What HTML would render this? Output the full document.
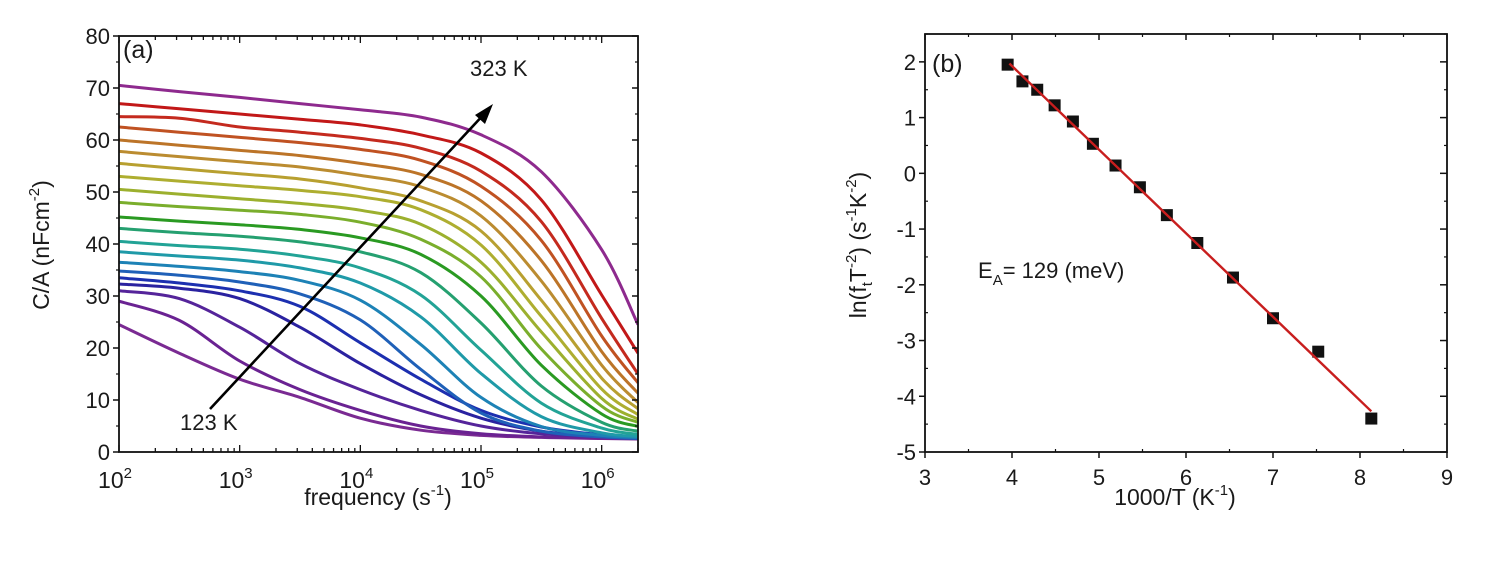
<!DOCTYPE html>
<html><head><meta charset="utf-8"><style>
html,body{margin:0;padding:0;background:#fff}
svg text{font-family:"Liberation Sans",Arial,sans-serif;fill:#1a1a1a}
</style></head><body>
<svg id="fig" width="1500" height="556" viewBox="0 0 1500 556" xmlns="http://www.w3.org/2000/svg">
<g id="pa"></g>
<g id="pb"></g>
</svg>
<script>
// ---------- Panel (a) data ----------
const logFreqSamples = [2, 2.5, 3, 3.5, 4, 4.5, 5, 5.5, 6, 6.301];
const curve123K = [24.5,19,14,10.5,6.5,4.2,3.2,2.8,2.6,2.5];
const curve133K = [29,25.3,17.5,12,8,5,3.5,2.9,2.7,2.6];
const curve143K = [31,29.5,24,17,12,8,5,3.5,2.9,2.7];
const curve153K = [32.3,31.5,29.5,24,17,11,6.5,4,3,2.8];
const curve163K = [33.5,32.5,31,28,21,14,8,4.8,3.3,2.9];
const curve173K = [34.8,34,32.7,30.4,25.4,15.9,7.5,4,2.9,2.6];
const curve183K = [36.5,35.7,34.7,33,29.2,20.7,10.5,4.9,3.2,2.8];
const curve193K = [38.5,37.7,36.9,35.4,32.5,26,15.1,6.8,3.7,3.0];
const curve203K = [40.5,39.7,39,37.7,35.4,30.2,19.6,9.4,4.6,3.4];
const curve213K = [43,42.2,41.5,40.4,38.5,34.5,24.8,12.7,5.7,4.0];
const curve223K = [45.2,44.4,43.7,42.8,41.2,38,30,16.7,7.3,4.9];
const curve233K = [48,47.2,46.5,45.7,44.2,40.9,33.7,19.8,8.8,5.7];
const curve243K = [50.5,49.6,48.7,47.8,46.5,43.8,36.5,23.1,10.3,6.3];
const curve253K = [53,52.1,51.2,50.3,49.1,46.6,39.8,26.1,12.1,7.2];
const curve263K = [55.5,54.5,53.5,52.5,50.8,48.3,42.5,29.2,14.2,8.3];
const curve273K = [57.8,56.8,55.8,54.8,53.2,51,45.4,32.9,16.7,9.5];
const curve283K = [60,59,58,57,55.5,53.4,48.3,36.8,19.3,11.3];
const curve293K = [62.5,61.5,60.5,59.5,58.2,56.1,51.1,40.7,22.3,13.3];
const curve303K = [64.5,64.2,62.5,61.5,60.3,58.4,54,44.3,25.7,15];
const curve313K = [67,66,65,64,62.9,61,57.5,48.5,30.2,19];
const curve323K = [70.5,69.3,68.2,67,65.8,64.4,61,53.9,38.9,24.5];
const curvesA = [curve123K,curve133K,curve143K,curve153K,curve163K,curve173K,curve183K,curve193K,curve203K,curve213K,curve223K,curve233K,curve243K,curve253K,curve263K,curve273K,curve283K,curve293K,curve303K,curve313K,curve323K];
const curveLabels = ['123K','133K','143K','153K','163K','173K','183K','193K','203K','213K','223K','233K','243K','253K','263K','273K','283K','293K','303K','313K','323K'];
const yTicksA = [0,10,20,30,40,50,60,70,80];
const xDecadesA = [2,3,4,5,6];

// ---------- Panel (b) data ----------
const invT = [3.95,4.12,4.29,4.49,4.70,4.93,5.19,5.47,5.78,6.13,6.54,7.00,7.52,8.13];
const lnfT = [1.95,1.65,1.50,1.22,0.93,0.53,0.14,-0.25,-0.75,-1.25,-1.87,-2.60,-3.20,-4.40];
const fitX = [3.97, 8.13];
const fitY = [1.97, -4.27];
const xTicksB = [3,4,5,6,7,8,9];
const yTicksB = [-5,-4,-3,-2,-1,0,1,2];

const colors = ['#7a2a92','#6a2292','#55249a','#2a22a0','#1c2fb0','#1f60b8','#1d82b6','#1f9aa8','#22a396','#25a070','#2a9a22','#7aae2c','#9cb02e','#aeae30','#b8a030','#bb8c30','#bc7428','#c05222','#c42a1e','#c21818','#8e2a8e'];

const NS='http://www.w3.org/2000/svg';
function mk(parent,tag,attrs){const e=document.createElementNS(NS,tag);for(const k in attrs)e.setAttribute(k,attrs[k]);parent.appendChild(e);return e;}

const A={x0:119,x1:638,y0:452,y1:36,lmin:2,lmax:Math.log10(2e6),ymin:0,ymax:80};
function ax(l){return A.x0+(l-A.lmin)/(A.lmax-A.lmin)*(A.x1-A.x0);}
function ay(v){return A.y0-(v-A.ymin)/(A.ymax-A.ymin)*(A.y0-A.y1);}
const B={x0:925,x1:1447,y0:452,y1:34,xmin:3,xmax:9,ymin:-5,ymax:2.5};
function bx(v){return B.x0+(v-B.xmin)/(B.xmax-B.xmin)*(B.x1-B.x0);}
function by(v){return B.y0-(v-B.ymin)/(B.ymax-B.ymin)*(B.y0-B.y1);}

function smoothPath(pts){
  let d='M'+pts[0][0].toFixed(1)+','+pts[0][1].toFixed(1);
  for(let i=0;i<pts.length-1;i++){
    const p0=pts[i-1]||pts[i],p1=pts[i],p2=pts[i+1],p3=pts[i+2]||p2;
    const c1=[p1[0]+(p2[0]-p0[0])/6,p1[1]+(p2[1]-p0[1])/6];
    const c2=[p2[0]-(p3[0]-p1[0])/6,p2[1]-(p3[1]-p1[1])/6];
    d+=' C'+c1[0].toFixed(1)+','+c1[1].toFixed(1)+' '+c2[0].toFixed(1)+','+c2[1].toFixed(1)+' '+p2[0].toFixed(1)+','+p2[1].toFixed(1);
  }
  return d;
}

const pa=document.getElementById('pa');
const clip=mk(pa,'clipPath',{id:'clipA'});
mk(clip,'rect',{x:A.x0,y:A.y1,width:A.x1-A.x0,height:A.y0-A.y1});
const cg=mk(pa,'g',{'clip-path':'url(#clipA)'});


curvesA.forEach((c,i)=>{
  const pts=c.map((v,j)=>[ax(logFreqSamples[j]),ay(v)]);
  const p=mk(cg,'path',{d:smoothPath(pts),fill:'none',stroke:colors[i],'stroke-width':3});
  
  
});
const fa=mk(pa,'rect',{x:A.x0,y:A.y1,width:A.x1-A.x0,height:A.y0-A.y1,fill:'none',stroke:'#111','stroke-width':1.8});


yTicksA.forEach((v,i)=>{
  const y=ay(v);
  mk(pa,'line',{x1:A.x0-6,y1:y,x2:A.x0,y2:y,stroke:'#111','stroke-width':1.5});
  mk(pa,'line',{x1:A.x1-6,y1:y,x2:A.x1,y2:y,stroke:'#111','stroke-width':1.5});
  if(i<yTicksA.length-1){const m=ay(v+5);
    mk(pa,'line',{x1:A.x0-3,y1:m,x2:A.x0,y2:m,stroke:'#111','stroke-width':1.2});
    mk(pa,'line',{x1:A.x1-3,y1:m,x2:A.x1,y2:m,stroke:'#111','stroke-width':1.2});}
  const t=mk(pa,'text',{x:A.x0-9,y:y+8,'text-anchor':'end','font-size':22});
  t.textContent=v;
  
  
});
for(let d=2;d<=6;d++){
  for(let k=1;k<10;k++){
    const l=d+Math.log10(k); if(l>A.lmax+1e-6)break;
    const x=ax(l), len=k===1?7:4;
    mk(pa,'line',{x1:x,y1:A.y0,x2:x,y2:A.y0-len,stroke:'#111','stroke-width':1.3});
    mk(pa,'line',{x1:x,y1:A.y1,x2:x,y2:A.y1+len,stroke:'#111','stroke-width':1.3});
  }
}
xDecadesA.forEach(d=>{
  const t=mk(pa,'text',{x:ax(d)-4,y:A.y0+36,'text-anchor':'middle','font-size':23});
  t.innerHTML='10<tspan dy="-10" font-size="15">'+d+'</tspan>';
  
  
});
let t;
t=mk(pa,'text',{x:378,y:505,'text-anchor':'middle','font-size':23});
t.innerHTML='frequency (s<tspan dy="-10" font-size="15">-1</tspan><tspan dy="10">)</tspan>';


t=mk(pa,'text',{x:0,y:0,'text-anchor':'middle','font-size':23,transform:'translate(49,245) rotate(-90)'});
t.innerHTML='C/A (nFcm<tspan dy="-10" font-size="15">-2</tspan><tspan dy="10">)</tspan>';


t=mk(pa,'text',{x:123,y:58,'font-size':25});t.textContent='(a)';


t=mk(pa,'text',{x:470,y:76,'font-size':22});t.textContent='323 K';


t=mk(pa,'text',{x:180,y:430,'font-size':22});t.textContent='123 K';


const arr=mk(pa,'g',{});


mk(arr,'line',{x1:210,y1:409,x2:486,y2:112,stroke:'#000','stroke-width':2.6});
mk(arr,'polygon',{points:'493,104 475,115 485,124',fill:'#000'});

const pb=document.getElementById('pb');
const fb=mk(pb,'rect',{x:B.x0,y:B.y1,width:B.x1-B.x0,height:B.y0-B.y1,fill:'none',stroke:'#111','stroke-width':1.8});


yTicksB.forEach(v=>{
  const y=by(v);
  mk(pb,'line',{x1:B.x0-6,y1:y,x2:B.x0,y2:y,stroke:'#111','stroke-width':1.5});
  mk(pb,'line',{x1:B.x1-7,y1:y,x2:B.x1,y2:y,stroke:'#111','stroke-width':1.5});
  const m=by(v+0.5);
  mk(pb,'line',{x1:B.x0,y1:m,x2:B.x0+3,y2:m,stroke:'#111','stroke-width':1.2});
  mk(pb,'line',{x1:B.x1-3,y1:m,x2:B.x1,y2:m,stroke:'#111','stroke-width':1.2});
  const tt=mk(pb,'text',{x:B.x0-9,y:y+8,'text-anchor':'end','font-size':22});
  tt.textContent=v;
  
  
});
xTicksB.forEach((v,i)=>{
  const x=bx(v);
  mk(pb,'line',{x1:x,y1:B.y0,x2:x,y2:B.y0+6,stroke:'#111','stroke-width':1.5});
  mk(pb,'line',{x1:x,y1:B.y1,x2:x,y2:B.y1+6,stroke:'#111','stroke-width':1.5});
  if(i<xTicksB.length-1){const m=bx(v+0.5);
    mk(pb,'line',{x1:m,y1:B.y0,x2:m,y2:B.y0-3,stroke:'#111','stroke-width':1.2});
    mk(pb,'line',{x1:m,y1:B.y1,x2:m,y2:B.y1+3,stroke:'#111','stroke-width':1.2});}
  const tt=mk(pb,'text',{x:x,y:B.y0+33,'text-anchor':'middle','font-size':22});
  tt.textContent=v;
  
  
});
invT.forEach((v,i)=>{
  const r=mk(pb,'rect',{x:bx(v)-6,y:by(lnfT[i])-6,width:12,height:12,fill:'#111'});
  
  
});
const fl=mk(pb,'line',{x1:bx(fitX[0]),y1:by(fitY[0]),x2:bx(fitX[1]),y2:by(fitY[1]),stroke:'#c81e1e','stroke-width':2.4});


t=mk(pb,'text',{x:1175,y:505,'text-anchor':'middle','font-size':23});
t.innerHTML='1000/T (K<tspan dy="-10" font-size="15">-1</tspan><tspan dy="10">)</tspan>';


t=mk(pb,'text',{x:0,y:0,'text-anchor':'middle','font-size':23,transform:'translate(866,245) rotate(-90)'});
t.innerHTML='ln(f<tspan dy="6" font-size="15">t</tspan><tspan dy="-6">T</tspan><tspan dy="-10" font-size="15">-2</tspan><tspan dy="10">) (s</tspan><tspan dy="-10" font-size="15">-1</tspan><tspan dy="10">K</tspan><tspan dy="-10" font-size="15">-2</tspan><tspan dy="10">)</tspan>';


t=mk(pb,'text',{x:932,y:72,'font-size':25});t.textContent='(b)';


t=mk(pb,'text',{x:978,y:278,'font-size':22});
t.innerHTML='E<tspan dy="7" font-size="15">A</tspan><tspan dy="-7">= 129 (meV)</tspan>';


</script>
</body></html>
